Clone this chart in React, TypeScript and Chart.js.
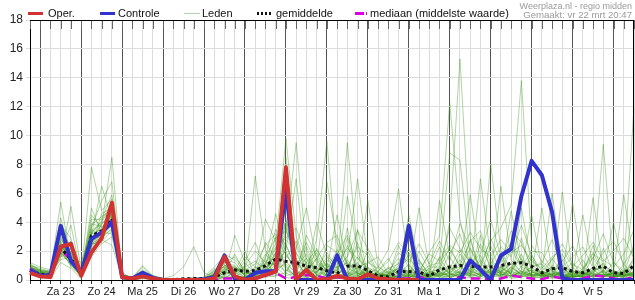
import React, { useEffect, useRef } from 'react';
import { Chart, registerables } from 'chart.js';

Chart.register(...registerables);

// ---- data (6-hourly steps, vr 22 18:00 .. za 6 12:00) ----
const DAY_LABELS = ['Za 23', 'Zo 24', 'Ma 25', 'Di 26', 'Wo 27', 'Do 28', 'Vr 29', 'Za 30', 'Zo 31', 'Ma 1', 'Di 2', 'Wo 3', 'Do 4', 'Vr 5'];
const Y_TICKS = [0, 2, 4, 6, 8, 10, 12, 14, 16, 18];

const OPER = [0.5, 0.25, 0.2, 2.3, 2.5, 0.3, 1.9, 2.9, 5.35, 0.2, 0.1, 0.25, 0.1, 0, 0, 0, 0, 0, 0.1, 1.6, 0.25, 0, 0.1, 0.35, 0.6, 7.8, 0.05, 0.7, 0, 0.05, 0.3, 0.1, 0.05, 0.4, 0.1, 0.05, 0, 0, 0,
  null, null, null, null, null, null, null, null, null, null, null, null, null, null, null, null, null, null, null, null, null, null];

const CONTROLE = [0.7, 0.3, 0.35, 3.75, 1.3, 0.5, 2.85, 3.3, 4.0, 0.2, 0.1, 0.5, 0.15, 0, 0, 0, 0, 0.05, 0.2, 1.7, 0.1, 0, 0.5, 0.6, 0.6, 6.3, 0, 0, 0, 0, 1.7, 0, 0, 0, 0, 0, 0, 3.75, 0, 0, 0, 0, 0, 1.35, 0.7, 0, 1.7, 2.15, 5.8, 8.25, 7.25, 4.7, 0.15, 0, 0, 0, 0, 0, 0, 0];

const GEMIDDELDE = [0.65, 0.4, 0.35, 2.2, 1.45, 0.4, 3.05, 3.4, 4.25, 0.2, 0.1, 0.35, 0.1, 0.02, 0.02, 0.08, 0.1, 0.1, 0.2, 0.5, 0.7, 0.6, 0.65, 1.0, 1.45, 1.3, 1.2, 0.95, 0.85, 0.65, 0.45, 0.95, 1.0, 0.65, 0.27, 0.22, 0.6, 0.57, 0.55, 0.27, 0.7, 0.9, 1.0, 0.95, 0.9, 0.9, 1.0, 1.15, 1.2, 0.95, 0.5, 0.78, 0.85, 0.6, 0.5, 0.8, 0.95, 0.5, 0.45, 1.0];

const MEDIAAN = [0.8, 0.3, 0.3, 2.1, 1.4, 0.4, 2.9, 3.3, 4.1, 0.15, 0.05, 0.3, 0.05, 0, 0, 0, 0, 0, 0, 0.1, 0.1, 0.05, 0.1, 0.3, 0.5, 0.1, 0.2, 0.35, 0.3, 0.1, 0.2, 0.05, 0.1, 0.05, 0, 0, 0.1, 0.1, 0.2, 0.05, 0, 0.05, 0.2, 0.1, 0.1, 0.05, 0.1, 0.3, 0.2, 0.1, 0.05, 0.25, 0.1, 0.05, 0.1, 0.3, 0.25, 0.1, 0.05, 0.2];

const LEDEN = [
  [0.9,0.5,0.4,2.1,1.6,0.3,3.0,3.6,4.5,0.2, 0.1,0.3,0.1,0,0,0,0,0,0.2,0.8, 0.5,0.2,0.1,0.6,1.2,2.0,0.4,0.8,0.5,1.6, 0.6,2.4,0.8,0.3,0.2,0.9,0.4,0.3,1.2,0.6, 0.4,1.8,3.2,0.9,0.4,1.1,0.5,2.6,1.4,0.6, 0.2,1.0,0.3,0.1,0.8,1.9,0.5,0.2,0.4,1.3],
  [0.6,0.3,0.3,2.6,1.2,0.5,2.7,3.1,3.9,0.1, 0.0,0.2,0.1,0,0,0,0,0.1,0.4,1.2, 1.0,0.3,0.2,1.5,4.6,1.8,0.6,0.2,0.9,0.3, 0.2,0.5,1.6,0.4,0.0,0.1,0.3,1.1,0.2,0.0, 0.1,0.3,0.6,2.2,0.9,0.3,0.2,0.8,0.4,1.5, 0.4,0.2,0.6,0.3,0.2,0.5,1.2,0.4,0.1,0.6],
  [1.1,0.7,0.6,1.8,2.2,0.2,3.4,4.0,5.2,0.3, 0.2,0.5,0.2,0,0,0,0,0,0.1,0.3, 3.1,1.2,0.4,0.2,0.3,0.5,0.1,0.6,1.5,0.2, 0.1,0.3,0.2,0.1,0.3,0.6,1.5,0.4,0.1,0.2, 0.6,0.2,0.4,0.3,1.4,0.5,0.9,0.2,0.6,0.3, 0.1,0.5,0.2,0.6,0.4,0.2,0.3,0.1,0.9,12.0],
  [0.5,0.2,0.2,3.1,1.0,0.6,2.4,2.9,3.6,0.2, 0.1,0.4,0.0,0,0,0,0.1,0.2,0.6,1.5, 0.8,0.4,0.6,1.2,2.5,9.8,3.0,1.0,0.4,0.6, 0.9,1.2,0.4,2.0,0.5,0.2,0.1,0.6,0.9,0.3, 0.3,0.9,0.2,0.6,0.3,2.4,0.4,0.5,1.8,0.2, 0.6,0.3,1.4,0.2,0.3,0.7,0.2,0.5,0.3,0.4],
  [0.8,0.4,0.5,5.4,1.4,0.4,3.8,4.4,4.8,0.1, 0.1,0.6,0.3,0.1,0.3,0.9,2.3,0.5,0.2,0.4, 0.2,0.0,0.1,0.3,0.6,0.2,0.0,0.1,0.0,0.4, 0.3,0.1,0.0,0.2,0.1,0.0,0.2,0.0,0.4,1.0, 1.2,0.4,0.1,0.2,0.1,0.3,0.6,0.1,0.2,0.4, 0.3,0.1,0.2,0.4,0.1,0.3,0.6,0.2,0.5,0.2],
  [0.7,0.6,0.3,1.5,5.1,0.7,2.2,3.3,3.2,0.4, 0.0,0.2,0.1,0,0,0,0,0,0.3,0.9, 0.6,0.9,1.3,0.7,1.9,5.2,1.4,0.3,2.2,0.8, 4.5,1.0,0.3,0.5,0.2,0.4,0.8,0.3,0.1,0.5, 0.2,0.6,1.4,0.5,7.0,1.6,0.3,0.9,0.4,0.7, 0.5,6.0,0.9,0.3,0.6,0.2,0.4,0.3,0.2,0.8],
  [1.2,0.9,0.7,2.4,1.9,0.3,7.8,4.8,5.6,0.2, 0.2,0.9,0.2,0,0,0,0,0,0.5,1.8, 1.4,0.6,7.2,2.1,0.8,1.1,0.5,2.3,0.6,1.2, 0.4,5.8,2.1,0.6,0.3,0.1,0.5,2.2,0.7,0.2, 0.5,0.3,0.8,5.9,1.2,0.4,1.5,0.3,0.6,0.2, 0.2,0.4,0.3,5.3,0.9,0.4,0.2,0.6,0.3,0.5],
  [0.4,0.2,0.1,1.2,0.8,0.1,1.6,2.5,3.0,0.1, 0.1,0.3,0.0,0,0,0,0,0,0,0.2, 0.1,0.0,0.3,0.6,1.3,3.2,9.5,2.0,0.4,0.1, 0.1,0.4,0.6,5.5,1.0,0.3,0.2,0.1,0.3,0.1, 0.3,0.1,0.5,0.4,0.2,8.1,2.0,0.6,0.3,0.9, 1.1,0.3,6.1,0.5,0.2,0.6,0.9,0.2,0.4,0.3],
  [0.9,0.6,0.4,2.9,1.5,0.5,3.1,6.5,4.2,0.2, 0.0,0.1,0.1,0,0,0.1,0.2,0.1,0.3,0.6, 0.3,0.5,0.8,4.2,2.7,0.9,0.2,0.4,1.1,0.5, 1.3,0.2,0.9,0.3,0.6,1.5,0.3,0.5,5.0,0.9, 0.9,0.5,0.3,1.1,0.6,0.2,6.5,1.4,0.5,0.3, 0.3,0.8,0.2,0.4,4.5,1.0,0.3,0.4,0.6,0.2],
  [0.6,0.4,0.3,1.9,2.7,0.2,2.9,3.8,8.5,0.3, 0.2,0.7,0.3,0,0,0,0,0,0.2,1.0, 0.7,0.2,0.2,1.0,3.5,2.4,0.8,1.5,0.3,0.2, 0.2,0.6,0.3,0.1,0.4,0.2,2.4,0.8,0.2,0.4, 0.2,0.8,2.1,0.3,0.5,0.7,0.3,4.8,1.2,0.4, 5.0,0.6,0.4,0.2,0.3,0.5,0.2,1.3,0.3,0.4],
  [1.0,0.5,0.6,3.5,1.3,0.8,3.5,3.0,4.0,0.2, 0.1,0.2,0.1,0,0,0,0,0.1,0.8,0.5, 0.4,1.6,0.9,0.5,1.4,8.5,1.2,0.4,0.2,1.0, 0.5,2.9,0.4,0.8,0.1,0.3,0.6,0.2,0.5,0.1, 5.5,1.6,0.4,0.8,0.3,0.2,0.9,0.4,5.0,1.1, 0.4,0.2,0.5,0.9,0.2,5.7,0.6,0.3,0.2,1.6],
  [0.5,0.3,0.2,2.2,0.9,0.3,2.0,2.7,3.4,0.1, 0.0,0.3,0.0,0,0,0,0,0,0.1,0.7, 0.9,0.3,0.2,0.4,0.7,6.0,0.3,0.1,0.6,0.3, 0.3,0.1,3.5,0.4,0.2,0.6,0.1,0.3,0.2,0.6, 0.4,0.2,0.6,0.3,2.5,0.9,0.4,0.2,0.7,4.5, 0.9,0.3,0.2,0.3,0.5,0.3,0.4,0.2,0.6,0.3],
  [0.8,0.7,0.5,1.6,2.0,0.4,4.2,4.2,5.9,0.5, 0.1,0.4,0.2,0,0,0,0,0,0.4,1.3, 0.2,0.1,0.5,1.8,0.9,2.1,7.0,0.9,0.2,0.0, 0.1,0.3,0.2,1.2,0.8,0.1,0.4,4.5,1.1,0.2, 0.1,0.4,0.3,1.6,0.8,0.3,0.6,1.1,0.3,0.2, 0.2,0.6,0.4,0.2,0.3,0.9,0.5,4.0,0.8,0.2],
  [0.7,0.4,0.4,4.3,1.7,0.6,2.6,3.5,3.8,0.2, 0.1,0.5,0.1,0,0,0,0,0,0,0.1, 0.6,0.8,0.3,0.2,1.6,0.4,2.2,5.0,1.3,0.7, 2.1,0.8,0.5,0.2,0.3,0.4,1.2,0.3,0.6,0.3, 0.7,2.3,0.9,0.4,0.2,0.6,0.2,0.5,2.9,0.6, 0.3,0.2,0.7,0.4,1.4,0.3,0.2,0.5,5.9,1.2],
  [1.0,0.8,0.6,2.0,3.8,0.3,5.0,3.2,4.6,0.3, 0.2,0.3,0.2,0,0,0,0,0,0.6,1.1, 0.3,0.2,0.6,0.9,0.5,1.3,0.4,0.6,2.8,9.6, 1.5,0.4,0.3,0.6,0.2,0.1,0.3,0.7,0.2,0.4, 0.3,0.5,1.1,0.2,0.9,0.4,1.8,0.3,0.2,0.5, 0.6,0.4,0.3,0.2,0.4,0.6,1.1,0.3,0.2,6.0],
  [0.6,0.3,0.3,2.5,1.1,0.2,2.3,4.6,5.0,0.1, 0.0,0.2,0.1,0,0,0,0,0,0.3,0.4, 1.8,0.5,0.1,0.3,1.1,0.6,1.5,0.2,0.9,6.8, 2.6,1.1,0.7,0.3,0.5,0.2,0.9,0.2,0.4,0.1, 1.6,0.4,0.2,0.7,0.3,1.3,0.5,0.6,0.4,1.8, 0.2,1.5,0.5,0.3,0.2,0.4,0.3,0.2,0.5,0.9],
  [0.9,0.5,0.5,1.4,1.6,1.2,3.3,2.8,2.4,0.2, 0.1,1.0,0.3,0.1,0,0,0,0.2,0.9,1.6, 0.5,1.0,2.0,1.2,0.4,3.6,0.9,1.8,0.3,0.5, 0.7,9.5,1.8,0.5,0.1,0.3,0.2,0.4,0.3,0.8, 0.2,0.9,0.5,0.3,1.7,0.4,0.3,2.2,0.8,0.3, 0.4,0.3,0.2,0.6,0.5,0.2,0.7,0.4,0.3,0.6],
  [0.5,0.2,0.2,2.7,1.2,0.4,2.8,3.9,4.4,0.1, 0.1,0.3,0.1,0,0,0,0,0,0.1,0.2, 0.2,0.0,0.3,0.8,2.2,1.0,0.2,0.3,4.0,1.7, 0.9,1.6,7.0,1.4,0.3,0.2,0.5,0.1,0.6,0.2, 0.5,0.3,1.8,0.6,0.4,0.2,1.0,0.4,0.3,0.7, 0.3,0.7,0.9,0.2,0.3,1.6,0.4,0.2,1.1,0.3],
  [1.1,0.6,0.5,3.3,2.4,0.5,3.6,5.5,6.8,0.4, 0.2,0.6,0.2,0,0,0,0,0,0.2,0.8, 0.4,0.6,0.2,0.5,0.6,2.8,1.9,0.5,0.1,0.9, 0.4,0.2,0.6,0.3,0.9,2.1,6.3,1.0,0.2,0.5, 0.8,0.2,0.4,2.8,0.6,0.5,0.3,0.7,1.5,0.2, 0.5,0.2,0.3,0.4,0.6,0.3,2.2,0.5,0.2,0.4],
  [0.7,0.4,0.3,1.8,1.4,0.2,2.1,3.0,3.5,0.2, 0.0,0.1,0.0,0,0,0,0,0,0.5,1.4, 1.2,0.3,0.9,0.3,3.0,0.7,0.3,1.2,0.8,0.2, 0.3,0.5,0.2,0.9,0.4,0.3,0.6,1.8,0.3,0.1, 0.4,1.1,0.3,0.5,0.2,0.8,0.4,0.3,0.5,0.9, 0.2,0.4,0.6,1.2,0.3,0.5,0.3,0.2,0.4,2.5],
  [0.8,0.5,0.4,2.3,1.8,0.6,3.9,3.7,4.1,0.3, 0.1,0.4,0.1,0,0,0,0,0,0.1,0.3, 0.1,0.2,0.4,1.4,0.3,4.3,0.6,0.1,0.5,1.4, 0.8,0.3,1.2,0.2,0.1,0.5,0.2,0.4,2.0,0.7, 2.3,0.6,0.5,0.2,0.4,0.3,0.8,0.5,0.2,0.4, 0.3,0.9,0.2,0.3,0.7,0.4,0.2,0.6,0.3,0.2],
  [0.6,0.3,0.2,3.8,2.9,0.3,2.5,2.6,4.9,0.1, 0.1,0.3,0.2,0,0,0,0,0,0.7,0.9, 0.6,2.0,0.2,0.6,1.8,1.5,2.7,0.7,0.2,0.3, 0.2,1.4,0.4,0.6,0.3,0.1,0.3,0.2,0.5,1.9, 3.0,12.3,4.2,0.9,0.5,0.6,0.2,0.9,0.4,0.3, 0.6,0.3,0.4,0.2,0.4,2.4,0.5,0.3,0.7,0.4],
  [1.0,0.7,0.5,2.0,1.0,0.4,3.2,4.1,5.4,0.2, 0.2,0.5,0.1,0,0,0,0,0,0.2,0.6, 0.3,0.1,0.7,0.2,0.9,0.3,0.5,3.1,1.6,0.6, 0.5,0.7,2.6,0.3,0.2,0.4,0.8,0.6,0.1,0.3, 1.2,8.8,8.3,1.5,0.7,0.2,0.4,0.3,0.9,0.6, 0.2,0.5,0.3,0.5,0.2,0.3,0.4,0.2,0.3,0.9],
  [0.4,0.3,0.2,1.7,1.3,0.2,2.4,3.4,3.7,0.1, 0.0,0.2,0.0,0,0,0,0,0,0,0.2, 0.0,0.2,0.1,0.4,0.2,2.5,0.7,0.2,0.3,2.4, 1.9,0.3,0.5,0.1,0.6,0.2,0.1,0.3,0.8,0.2, 0.6,4.0,15.3,3.0,0.3,0.4,0.7,0.2,0.3,0.5, 0.4,0.2,1.8,0.3,0.5,0.2,0.6,0.3,0.4,0.3],
  [0.9,0.6,0.6,2.8,2.1,0.5,4.5,3.6,4.3,0.3, 0.1,0.4,0.2,0,0,0,0,0.1,0.3,1.0, 0.8,0.4,0.5,2.6,1.5,0.8,0.1,0.9,1.9,0.4, 0.2,3.6,0.3,0.7,0.2,0.8,0.4,0.2,0.3,0.5, 0.3,0.5,0.2,0.8,1.1,2.7,3.6,5.2,13.8,2.4, 1.3,0.6,0.3,0.2,0.4,0.7,0.3,0.5,0.2,0.6],
  [0.7,0.4,0.3,2.4,1.5,0.3,3.0,3.2,4.7,0.2, 0.1,0.3,0.1,0,0,0,0,0,0.4,0.7, 0.5,0.7,0.3,0.9,1.2,3.9,1.1,0.3,0.6,1.1, 0.6,0.4,0.9,0.2,0.4,0.3,1.0,0.5,1.4,0.3, 0.4,0.7,0.9,0.4,3.1,0.6,0.5,1.2,0.6,0.4, 0.3,0.4,0.5,0.6,0.2,0.9,9.4,0.7,0.3,0.5],
  [0.8,0.5,0.4,2.2,1.7,0.4,3.2,3.5,4.4,0.2, 0.1,0.3,0.1,0,0,0,0,0,0.3,1.0, 0.9,0.5,0.4,1.6,2.9,3.4,1.8,1.2,2.1,0.9, 1.1,2.2,1.5,0.8,0.6,1.3,2.6,1.9,0.8,0.6, 1.5,2.4,1.9,3.3,2.2,1.6,2.8,1.9,2.4,1.3, 0.8,1.6,2.1,0.9,1.7,2.6,1.4,0.9,1.8,3.5],
  [0.6,0.4,0.3,2.0,1.3,0.3,2.6,3.2,4.0,0.1, 0.1,0.2,0.1,0,0,0,0,0,0.2,0.6, 0.4,1.3,2.6,0.8,1.9,4.1,2.4,0.6,1.5,2.6, 3.1,0.9,2.3,1.7,0.4,0.8,1.1,2.9,1.4,0.3, 0.9,3.6,2.2,1.2,1.8,4.2,1.6,2.6,0.9,2.0, 1.9,0.7,1.3,2.4,0.8,1.5,3.2,1.2,0.6,1.4],
  [0.9,0.6,0.5,2.5,1.9,0.5,3.3,3.9,4.6,0.3, 0.2,0.5,0.2,0,0,0,0,0,0.4,1.2, 1.6,0.7,1.1,2.4,3.2,1.7,0.9,2.6,1.2,0.5, 1.8,3.1,0.9,1.2,1.6,0.4,1.9,1.2,2.5,1.1, 2.7,1.3,3.9,2.1,0.8,2.9,1.2,3.4,2.6,0.9, 1.2,2.8,0.9,1.6,2.3,0.8,1.9,2.7,1.1,2.2],
  [0.5,0.3,0.2,1.9,1.1,0.2,2.5,3.0,3.8,0.1, 0.0,0.2,0.0,0,0,0,0,0,0.1,0.5, 0.3,0.2,0.6,1.1,2.3,2.9,3.6,1.5,0.7,1.9, 0.8,1.6,3.4,2.2,0.9,0.5,0.8,1.5,0.6,1.8, 1.3,2.1,1.0,2.7,3.4,1.1,2.3,1.6,3.8,1.7, 0.6,1.4,2.5,1.1,0.7,1.8,1.3,2.0,2.9,1.5],
];

const N_STEPS = CONTROLE.length;
const LABELS: string[] = Array.from({ length: N_STEPS }, (_, i) =>
  i % 4 === 3 && DAY_LABELS[(i - 3) / 4] ? DAY_LABELS[(i - 3) / 4] : ''
);

const FONT = 'Arial, "Liberation Sans", Helvetica, sans-serif';

const overlayPlugin = {
  id: 'overlay',
  afterDraw(chart: any) {
    const ctx: CanvasRenderingContext2D = chart.ctx;
    const { left, right, top } = chart.chartArea;
    const xs = chart.scales.x;
    ctx.save();
    // top border with short ticks
    ctx.strokeStyle = '#666';
    ctx.lineWidth = 1;
    for (let i = 0; i < N_STEPS; i++) {
      const x = Math.round(xs.getPixelForValue(i)) + 0.5;
      ctx.beginPath();
      ctx.moveTo(x, top);
      ctx.lineTo(x, top + 9);
      ctx.stroke();
    }
    ctx.strokeStyle = '#000';
    ctx.beginPath();
    ctx.moveTo(left, top + 0.5);
    ctx.lineTo(right, top + 0.5);
    ctx.stroke();
    ctx.beginPath();
    ctx.moveTo(right - 0.5, top);
    ctx.lineTo(right - 0.5, chart.chartArea.bottom);
    ctx.stroke();

    // legend
    const yc = 13.5;
    ctx.font = `11px ${FONT}`;
    ctx.textBaseline = 'middle';
    ctx.fillStyle = '#111';
    const seg = (x0: number, x1: number, color: string, w: number, dash: number[] = []) => {
      ctx.beginPath();
      ctx.setLineDash(dash);
      ctx.strokeStyle = color;
      ctx.lineWidth = w;
      ctx.moveTo(x0, yc);
      ctx.lineTo(x1, yc);
      ctx.stroke();
      ctx.setLineDash([]);
    };
    seg(28, 43, 'rgb(210,50,50)', 3);
    ctx.fillText('Oper.', 48, yc);
    seg(100, 115, 'rgb(50,50,205)', 3);
    ctx.fillText('Controle', 118, yc);
    seg(184, 200, 'rgb(175,215,165)', 1);
    ctx.fillText('Leden', 202, yc);
    seg(257, 271, '#111', 3, [2, 2]);
    ctx.fillText('gemiddelde', 276, yc);
    seg(355, 368, 'rgb(220,0,220)', 3, [9, 2, 1, 10]);
    ctx.fillText('mediaan (middelste waarde)', 370, yc);

    // source text
    ctx.fillStyle = '#9a9a9a';
    ctx.textAlign = 'right';
    ctx.textBaseline = 'alphabetic';
    ctx.font = `9px ${FONT}`;
    ctx.fillText('Weerplaza.nl - regio midden', 632, 9);
    ctx.font = `9.6px ${FONT}`;
    ctx.fillText('Gemaakt: vr 22 mrt 20:47', 632, 18);
    ctx.restore();
  },
};

export default function App() {
  const ref = useRef<HTMLCanvasElement | null>(null);

  useEffect(() => {
    document.body.style.margin = '0';
    const canvas = ref.current;
    if (!canvas) return;

    const memberSets = LEDEN.map((m) => ({
      label: 'Leden',
      data: m,
      borderColor: 'rgba(60,150,25,0.4)',
      borderWidth: 1,
      pointRadius: 0,
      order: 10,
    }));

    const chart = new Chart(canvas, {
      type: 'line',
      data: {
        labels: LABELS,
        datasets: [
          { label: 'Oper.', data: OPER, borderColor: 'rgb(210,50,50)', borderWidth: 4, pointRadius: 0, order: 1, borderJoinStyle: 'round' },
          { label: 'Controle', data: CONTROLE, borderColor: 'rgb(50,50,205)', borderWidth: 4, pointRadius: 0, order: 2, borderJoinStyle: 'round' },
          { label: 'gemiddelde', data: GEMIDDELDE, borderColor: '#111', borderWidth: 3, borderDash: [3, 3], pointRadius: 0, order: 3 },
          { label: 'mediaan (middelste waarde)', data: MEDIAAN, borderColor: 'rgb(220,0,220)', borderWidth: 2.5, borderDash: [9, 5], pointRadius: 0, order: 4 },
          ...memberSets,
        ] as any,
      },
      options: {
        responsive: false,
        animation: false,
        events: [],
        spanGaps: false,
        layout: { padding: { top: 20, right: 1, left: 0, bottom: 0 } },
        elements: { line: { tension: 0 } },
        plugins: { legend: { display: false }, tooltip: { enabled: false } },
        scales: {
          x: {
            type: 'category',
            grid: {
              color: (c: any) => (c.index % 4 === 1 ? '#555' : '#dcdcdc'),
              lineWidth: 1,
              tickLength: 4,
              tickColor: '#333',
            },
            border: { color: '#000', width: 1 },
            ticks: {
              autoSkip: false,
              maxRotation: 0,
              minRotation: 0,
              padding: 1,
              color: '#222',
              font: { family: FONT, size: 11 },
            },
            afterFit: (s: any) => { s.height = 20; },
          },
          y: {
            min: 0,
            max: 18,
            afterBuildTicks: (s: any) => { s.ticks = Y_TICKS.map((v) => ({ value: v })); },
            grid: { color: '#dcdcdc', lineWidth: 1, tickLength: 4, tickColor: '#dcdcdc' },
            border: { color: '#000', width: 1 },
            ticks: { padding: 3, color: '#222', font: { family: FONT, size: 12 } },
            afterFit: (s: any) => { s.width = 30; },
          },
        },
      },
      plugins: [overlayPlugin],
    });

    return () => chart.destroy();
  }, []);

  return <canvas ref={ref} width={635} height={300} style={{ display: 'block' }} />;
}
